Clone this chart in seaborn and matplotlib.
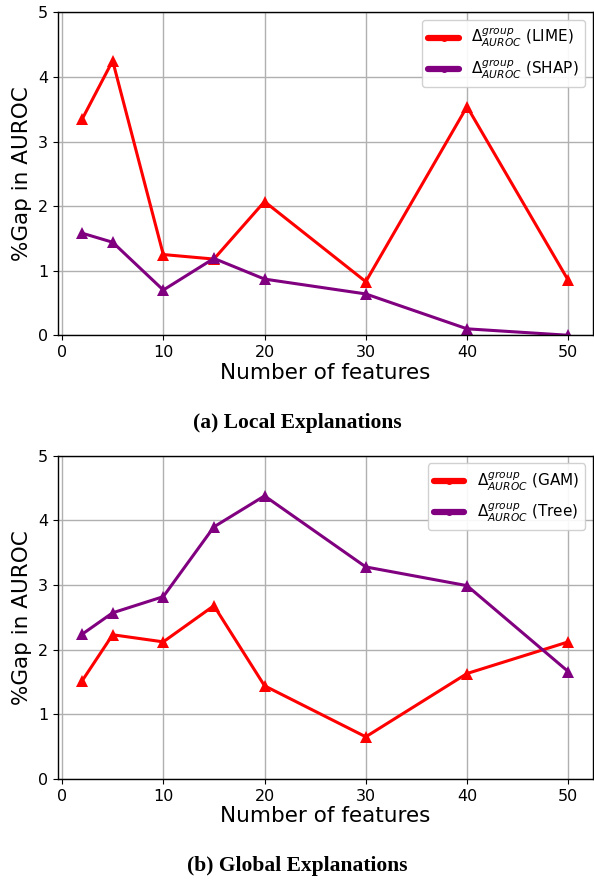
import matplotlib
matplotlib.use("Agg")
import matplotlib.pyplot as plt
from matplotlib.lines import Line2D
import seaborn as sns
import pandas as pd

features = [2, 5, 10, 15, 20, 30, 40, 50]
lime = [3.35, 4.25, 1.25, 1.18, 2.07, 0.83, 3.54, 0.85]
shap = [1.58, 1.44, 0.70, 1.19, 0.87, 0.64, 0.10, 0.0]
gam = [1.52, 2.23, 2.12, 2.68, 1.44, 0.65, 1.63, 2.12]
tree = [2.24, 2.57, 2.82, 3.90, 4.38, 3.28, 2.99, 1.66]

lab_lime = r'$\Delta^{group}_{AUROC}$ (LIME)'
lab_shap = r'$\Delta^{group}_{AUROC}$ (SHAP)'
lab_gam = r'$\Delta^{group}_{AUROC}$ (GAM)'
lab_tree = r'$\Delta^{group}_{AUROC}$ (Tree)'

sns.set_style("ticks")
plt.rcParams['font.family'] = ['DejaVu Sans']
plt.rcParams['text.color'] = 'black'
plt.rcParams['axes.labelcolor'] = 'black'
plt.rcParams['xtick.color'] = 'black'
plt.rcParams['ytick.color'] = 'black'

fig = plt.figure(figsize=(5.94, 8.8), dpi=100)
ax1 = fig.add_axes([0.0976, 0.619, 0.9, 0.367])
ax2 = fig.add_axes([0.0976, 0.115, 0.9, 0.367])

def draw(ax, s1, l1, s2, l2):
    df = pd.DataFrame({"x": features * 2, "y": s1 + s2,
                       "series": [l1] * len(features) + [l2] * len(features)})
    sns.lineplot(data=df, x="x", y="y", hue="series", palette=["red", "purple"],
                 marker="^", markersize=9, markeredgewidth=0, linewidth=2.2,
                 ax=ax, legend=False)
    ax.set_ylim(0, 5)
    ax.set_xticks([0, 10, 20, 30, 40, 50])
    ax.set_yticks([0, 1, 2, 3, 4, 5])
    ax.grid(True, color="#b0b0b0", linewidth=1)
    ax.set_axisbelow(True)
    ax.tick_params(labelsize=11.5)
    ax.set_xlabel("Number of features", fontsize=15.5, labelpad=2)
    ax.set_ylabel("%Gap in AUROC", fontsize=15.5)
    for sp in ax.spines.values():
        sp.set_color("black")
        sp.set_linewidth(1)
    handles = [Line2D([], [], color="red", lw=4.5, marker="o", markersize=4),
               Line2D([], [], color="purple", lw=4.5, marker="o", markersize=4)]
    ax.legend(handles, [l1, l2], loc="upper right", fontsize=11,
              handlelength=2.0, framealpha=0.9)

draw(ax1, lime, lab_lime, shap, lab_shap)
draw(ax2, gam, lab_gam, tree, lab_tree)

fig.text(0.5, 1 - 423 / 880, "(a) Local Explanations", ha="center", va="center",
         fontsize=15.5, fontweight="bold", family=["Liberation Serif", "DejaVu Serif"])
fig.text(0.5, 1 - 866 / 880, "(b) Global Explanations", ha="center", va="center",
         fontsize=15.5, fontweight="bold", family=["Liberation Serif", "DejaVu Serif"])

fig.savefig("out.png", dpi=100)
